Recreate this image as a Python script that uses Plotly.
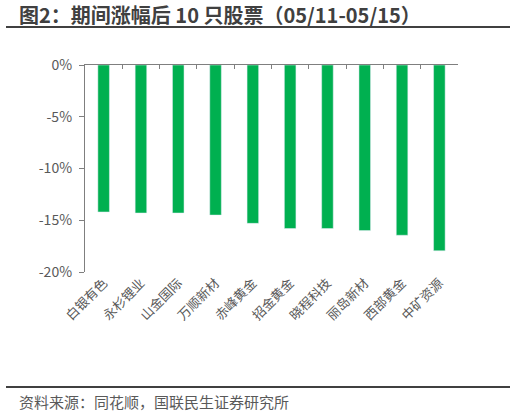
import plotly.graph_objects as go

categories = ["白银有色", "永杉锂业", "山金国际", "万顺新材", "赤峰黄金", "招金黄金", "晓程科技", "丽岛新材", "西部黄金", "中矿资源"]
values = [-14.2, -14.3, -14.3, -14.5, -15.3, -15.8, -15.8, -16.0, -16.45, -17.95]
y_tickvals = [0, -5, -10, -15, -20]
y_ticktext = ["0%", "-5%", "-10%", "-15%", "-20%"]
title_text = "图2：期间涨幅后 10 只股票（05/11-05/15）"
source_text = "资料来源：同花顺，国联民生证券研究所"

FONT = "Noto Sans CJK SC, Microsoft YaHei, sans-serif"
GREY = "#595959"

fig = go.Figure()
fig.add_trace(go.Bar(x=categories, y=values, marker=dict(color="#00B050", line=dict(width=0)),
                     hoverinfo="x+y", showlegend=False))
# invisible trace to host the top (zero-line) axis
fig.add_trace(go.Bar(x=categories, y=values, xaxis="x2", marker=dict(color="rgba(0,0,0,0)"),
                     hoverinfo="skip", showlegend=False))

fig.update_layout(
    width=516, height=416,
    margin=dict(l=85, r=58, t=65, b=144),
    paper_bgcolor="white", plot_bgcolor="white",
    bargap=0.69,
    font=dict(family=FONT, size=12, color=GREY),
    xaxis=dict(type="category", showline=False, ticks="", tickangle=-45,
               tickfont=dict(family=FONT, size=13, color=GREY), showgrid=False,
               zeroline=False, fixedrange=True),
    xaxis2=dict(type="category", overlaying="x", matches="x", side="top", anchor="y",
                showline=True, linecolor="#7f7f7f", linewidth=1.3,
                ticks="inside", tickson="boundaries", ticklen=4, tickcolor="#7f7f7f",
                showticklabels=False, showgrid=False, zeroline=False),
    yaxis=dict(range=[-20, 0], tickvals=y_tickvals, ticktext=y_ticktext,
               showline=True, linecolor="#7f7f7f", linewidth=1.3,
               ticks="outside", ticklen=5, tickcolor="#7f7f7f",
               tickfont=dict(family=FONT, size=14, color=GREY),
               ticklabelstandoff=4,
               showgrid=False, zeroline=False),
    annotations=[
        dict(text="<b>" + title_text + "</b>", xref="paper", yref="paper",
             x=(17 - 85) / 373, y=1 + (65 - 14) / 207, xanchor="left", yanchor="middle",
             showarrow=False, font=dict(family=FONT, size=20, color="#404040")),
        dict(text=source_text, xref="paper", yref="paper",
             x=(17 - 85) / 373, y=-(401 - 272) / 207, xanchor="left", yanchor="middle",
             showarrow=False, font=dict(family=FONT, size=15, color=GREY)),
    ],
    shapes=[
        dict(type="line", xref="paper", yref="paper",
             x0=(6 - 85) / 373, x1=(510 - 85) / 373,
             y0=1 + (65 - 27) / 207, y1=1 + (65 - 27) / 207,
             line=dict(color="#404040", width=2)),
        dict(type="line", xref="paper", yref="paper",
             x0=(6 - 85) / 373, x1=(510 - 85) / 373,
             y0=-(387 - 272) / 207, y1=-(387 - 272) / 207,
             line=dict(color="#404040", width=2)),
    ],
)

fig.write_html("out.html")
